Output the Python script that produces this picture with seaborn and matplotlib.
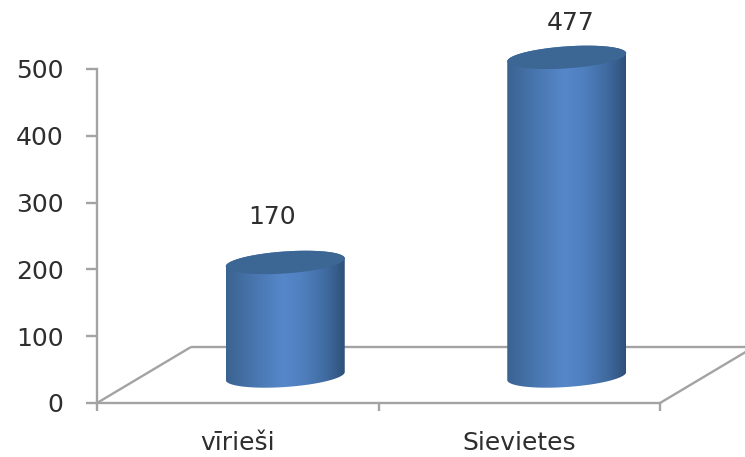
import numpy as np
import matplotlib
matplotlib.use("Agg")
import matplotlib.pyplot as plt
from matplotlib.colors import LinearSegmentedColormap
from matplotlib.patches import Polygon
import pandas as pd
import seaborn as sns

categories = ["vīrieši", "Sievietes"]
values = [170, 477]
y_ticks = [0, 100, 200, 300, 400, 500]

W, H = 745, 457
AXIS_GREY = "#a3a3a3"
TEXT = "#2e2e2e"
FONT = 18
sns.set_style("white")
plt.rcParams["font.family"] = ["DejaVu Sans"]

fig = plt.figure(figsize=(W / 100, H / 100), dpi=100)
ax = fig.add_axes([97 / W, 1 - 403 / H, (660 - 97) / W, (403 - 69) / H])

df = pd.DataFrame({"cat": categories, "val": values})
sns.barplot(data=df, x="cat", y="val", width=0.4227, ax=ax, color="#4f81bd")
ax.set_xlim(-0.5, 1.5)
ax.set_ylim(0, 500)
ax.set_xlabel("")
ax.set_ylabel("")

# pixel-to-data factors
px_x = 2 / (660 - 97)
px_y = 500 / (403 - 69)

# floor, drawn in the axis' own units
depth_x, depth_y = 94 * px_x, 56 * px_y
floor_kw = dict(color=AXIS_GREY, lw=1.7, clip_on=False, zorder=1, solid_capstyle="butt")
ax.plot([-0.5, -0.5 + depth_x], [0, depth_y], **floor_kw)
ax.plot([-0.5 + depth_x, 1.5 + depth_x], [depth_y, depth_y], **floor_kw)
ax.plot([1.5, 1.5 + depth_x], [0, depth_y], **floor_kw)

# cylinders built from the bars seaborn laid out
shift_x, shift_y = 47.5 * px_x, 27 * px_y
minor = 11 * px_y
shear = 4 * px_y
cmap = LinearSegmentedColormap.from_list(
    "cyl",
    [(0, "#3a6391"), (0.2, "#4673aa"), (0.48, "#5687ca"), (0.65, "#4f7fbe"),
     (0.85, "#3f6a9f"), (1, "#2f5079")],
)
grad = np.linspace(0, 1, 256).reshape(1, -1)
t = np.linspace(0, np.pi, 80)
ex = np.cos(t)
label_offsets = [(-13, 45), (4, 34)]

for bar, value, (ox, oy) in zip(list(ax.patches), values, label_offsets):
    bar.set_visible(False)
    half = bar.get_width() / 2
    cx = bar.get_x() + half + shift_x
    base = bar.get_y() + shift_y
    top = base + bar.get_height()
    upper = top + shear * ex + minor * np.sin(t)
    lower_base = base + shear * ex - minor * np.sin(t)
    lower_top = top + shear * ex - minor * np.sin(t)

    body = Polygon(np.c_[np.r_[cx + half * ex, cx + half * ex[::-1]],
                         np.r_[upper, lower_base[::-1]]],
                   closed=True, transform=ax.transData, fc="none", ec="none")
    ax.add_patch(body)
    im = ax.imshow(grad, cmap=cmap, aspect="auto", zorder=3,
                   extent=[cx - half, cx + half, base - 2 * minor, top + 2 * minor])
    im.set_clip_box(fig.bbox)
    im.set_clip_path(body)

    ax.add_patch(Polygon(np.c_[np.r_[cx + half * ex, cx + half * ex[::-1]],
                               np.r_[upper, lower_top[::-1]]],
                         closed=True, fc="#3c6694", ec="none", zorder=4, clip_on=False))

    ax.annotate(str(value), (cx, top), xytext=(ox * 0.72, oy * 0.72),
                textcoords="offset points", ha="center", va="center",
                fontsize=FONT, color=TEXT, annotation_clip=False, zorder=5)

ax.set_xlim(-0.5, 1.5)
ax.set_ylim(0, 500)
ax.set_yticks(y_ticks)

for side in ("top", "right"):
    ax.spines[side].set_visible(False)
for side in ("left", "bottom"):
    ax.spines[side].set_color(AXIS_GREY)
    ax.spines[side].set_linewidth(1.7)

ax.set_xticks([-0.5, 0.5, 1.5], minor=True)
ax.tick_params(axis="x", which="minor", length=6, width=1.7, color=AXIS_GREY, bottom=True)
ax.tick_params(axis="x", which="major", length=0, pad=20, labelsize=FONT, labelcolor=TEXT)
ax.tick_params(axis="y", length=8, width=1.7, color=AXIS_GREY, left=True, pad=16,
               labelsize=FONT, labelcolor=TEXT)

fig.savefig("out.png", dpi=100, facecolor="white")
